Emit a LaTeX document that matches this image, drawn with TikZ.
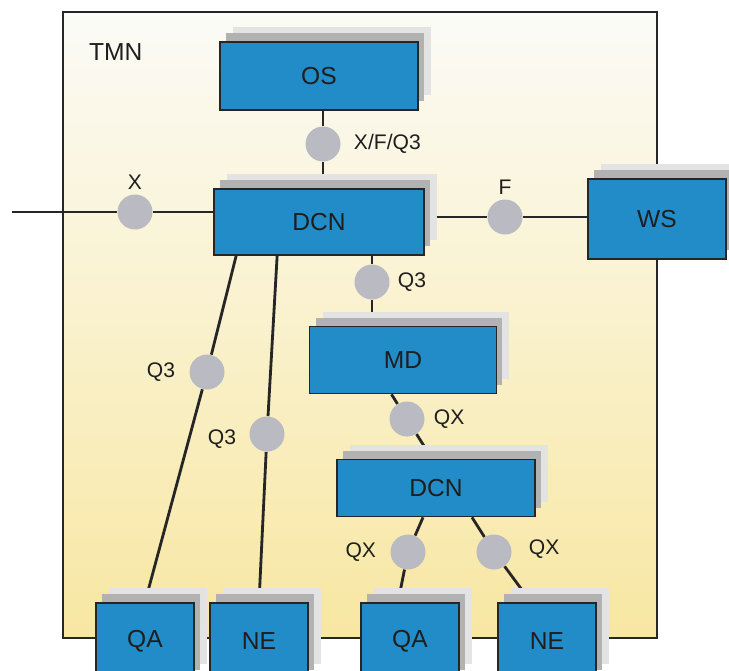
\documentclass[tikz,border=0pt]{standalone}
\usepackage{fontspec}
\setmainfont{Liberation Sans}
\usetikzlibrary{positioning, shadows, backgrounds, calc}
\definecolor{boxblue}{RGB}{33,140,200}
\definecolor{portgray}{RGB}{186,186,194}
\definecolor{textdark}{RGB}{30,30,30}
\definecolor{tmntop}{RGB}{251,251,247}
\definecolor{tmnmid}{RGB}{251,248,232}
\definecolor{tmnbot}{RGB}{248,231,162}

\begin{document}
\begin{tikzpicture}[x=0.02cm, y=-0.02cm,
    block/.style={draw=black!85, line width=1pt, fill=boxblue, text=textdark,
      font=\fontsize{14}{16}\selectfont, inner sep=0pt,
      general shadow={fill=gray!22, shadow xshift=0.26cm, shadow yshift=0.30cm},
      general shadow={fill=gray!60, shadow xshift=0.12cm, shadow yshift=0.18cm}},
    leaf/.style={block, minimum width=1.96cm, minimum height=1.52cm},
    port/.style={circle, fill=portgray, minimum size=0.7cm, inner sep=0pt},
    lbl/.style={font=\fontsize{12}{14}\selectfont, text=textdark, inner sep=1pt},
    link/.style={line width=1.6pt, draw=black!85}]
    \useasboundingbox (0,0) rectangle (729,670);

    % management blocks
    \node[block, minimum width=3.96cm, minimum height=1.36cm] (OS) at (319,76) {OS};
    \node[block, minimum width=4.2cm, minimum height=1.32cm] (DCN) at (319,222) {DCN};
    \node[block, minimum width=2.76cm, minimum height=1.6cm] (WS) at (657,219) {WS};
    \node[block, minimum width=3.74cm, minimum height=1.34cm] (MD) at (403,360) {MD};
    \node[block, minimum width=3.96cm, minimum height=1.14cm] (DCNb) at (436,488) {DCN};
    \node[leaf] (QAa) at (145,641) {QA};
    \node[leaf] (NEa) at (259,641) {NE};
    \node[leaf] (QAb) at (410,641) {QA};
    \node[leaf] (NEb) at (547,641) {NE};

    % reference points
    \node[port] (pOS) at (323,144) {};
    \node[port] (pX) at (135,212) {};
    \node[port] (pF) at (505,217) {};
    \node[port] (pMD) at (372,282) {};
    \node[port] (pQAa) at (207,372) {};
    \node[port] (pNEa) at (267,434) {};
    \node[port] (pDCNb) at (407,419) {};
    \node[port] (pQAb) at (408,552) {};
    \node[port] (pNEb) at (494,552) {};
    \coordinate (xin) at (12,212);

    \node[lbl, anchor=west, font=\fontsize{14}{16}\selectfont] (tmn) at (87,52) {TMN};
    \node[lbl, right=0.22cm of pOS] {X/F/Q3};
    \node[lbl, above=0.06cm of pX] {X};
    \node[lbl, above=0.06cm of pF] {F};
    \node[lbl, right=0.12cm of pMD] {Q3};
    \node[lbl, left=0.24cm of pQAa] {Q3};
    \node[lbl, left=0.22cm of pNEa, yshift=-0.1cm] {Q3};
    \node[lbl, right=0.14cm of pDCNb] {QX};
    \node[lbl, left=0.24cm of pQAb] {QX};
    \node[lbl, right=0.3cm of pNEb, yshift=0.06cm] {QX};

    \begin{scope}[on background layer]
      \draw[black!85, line width=1pt, top color=tmntop, middle color=tmnmid,
        bottom color=tmnbot] (63,12) rectangle (657,638);
      \draw[link] (pOS |- OS.south) -- (pOS) -- (pOS |- DCN.north);
      \draw[link] (xin) -- (pX) -- (pX -| DCN.west);
      \draw[link] (DCN.east |- pF) -- (pF) -- (pF -| WS.west);
      \draw[link] (pMD |- DCN.south) -- (pMD) -- (pMD |- MD.north);
      \draw[link] ([xshift=0.46cm]DCN.south west) -- (pQAa) -- (QAa.north);
      \draw[link] ([xshift=1.28cm]DCN.south west) -- (pNEa) -- (NEa.north);
      \draw[link] ([xshift=-0.23cm]MD.south) -- (pDCNb) -- ([xshift=-0.08cm]DCNb.north);
      \draw[link] ([xshift=-0.26cm]DCNb.south) -- (pQAb) -- ([xshift=-0.24cm]QAb.north);
      \draw[link] ([xshift=0.72cm]DCNb.south) -- (pNEb) -- ([xshift=-0.32cm]NEb.north);
    \end{scope}
\end{tikzpicture}
\end{document}
